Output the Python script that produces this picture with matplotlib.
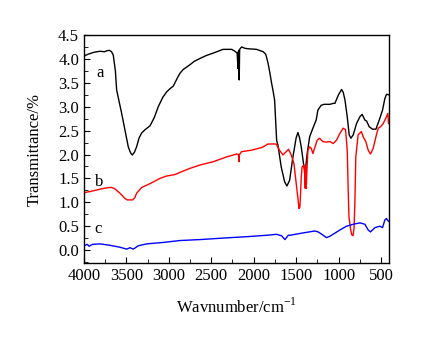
import matplotlib.pyplot as plt
from matplotlib.ticker import MultipleLocator

plt.rcParams['font.family'] = 'Liberation Serif'
plt.rcParams['mathtext.fontset'] = 'custom'
plt.rcParams['mathtext.rm'] = 'Liberation Serif'

# curve a (black)
wa = [4000, 3950, 3880, 3812, 3760, 3730, 3700, 3675, 3655, 3630, 3615, 3585,
      3556, 3517, 3478, 3450, 3430, 3405, 3380, 3350, 3320, 3280, 3222, 3170,
      3125, 3070, 3026, 2985, 2948, 2900, 2869, 2830, 2790, 2750, 2700, 2633,
      2560, 2480, 2420, 2362, 2300, 2260, 2221, 2195, 2186, 2182, 2176, 2171,
      2166, 2143, 2100, 2050, 1966, 1920, 1888, 1860, 1849, 1830, 1809, 1790,
      1770, 1754, 1730, 1715, 1676, 1636, 1609, 1577, 1538, 1500, 1479, 1460,
      1440, 1408, 1393, 1370, 1341, 1303, 1264, 1244, 1205, 1170, 1146, 1102,
      1063, 1043, 1004, 965, 945, 925, 898, 875, 855, 828, 788, 749, 722, 690,
      670, 639, 600, 560, 521, 482, 455, 435, 412]
ya = [4.06, 4.10, 4.14, 4.16, 4.15, 4.17, 4.18, 4.15, 4.08, 3.75, 3.35, 3.10,
      2.86, 2.51, 2.16, 2.03, 1.99, 2.05, 2.16, 2.35, 2.45, 2.52, 2.60, 2.78,
      3.00, 3.20, 3.31, 3.38, 3.43, 3.60, 3.70, 3.78, 3.83, 3.88, 3.95, 4.01,
      4.07, 4.12, 4.16, 4.20, 4.20, 4.20, 4.16, 4.12, 3.80, 4.15, 4.18, 3.56,
      4.20, 4.25, 4.22, 4.21, 4.20, 4.17, 4.15, 4.10, 4.04, 3.90, 3.70, 3.50,
      3.31, 3.14, 2.30, 2.20, 1.74, 1.43, 1.34, 1.46, 1.95, 2.35, 2.46, 2.35,
      2.16, 1.74, 1.64, 2.02, 2.37, 2.55, 2.72, 2.93, 3.03, 3.05, 3.05, 3.05,
      3.07, 3.07, 3.24, 3.36, 3.30, 3.14, 2.79, 2.41, 2.34, 2.41, 2.65, 2.79,
      2.84, 2.72, 2.70, 2.58, 2.53, 2.53, 2.72, 2.93, 3.17, 3.26, 3.25]

# curve b (red)
wb = [4000, 3890, 3773, 3700, 3674, 3635, 3576, 3517, 3490, 3427, 3400, 3380,
      3320, 3222, 3105, 3026, 2928, 2849, 2751, 2633, 2476, 2319, 2201, 2180,
      2174, 2168, 2143, 2025, 1900, 1832, 1735, 1696, 1656, 1617, 1589, 1558,
      1526, 1499, 1479, 1467, 1456, 1445, 1440, 1430, 1408, 1400, 1393, 1387,
      1381, 1375, 1361, 1341, 1322, 1303, 1283, 1252, 1224, 1185, 1146, 1102,
      1063, 1024, 985, 947, 918, 898, 886, 878, 860, 845, 830, 818, 808, 797,
      770, 731, 711, 679, 651, 624, 592, 560, 533, 506, 474, 443, 420, 412]
yb = [1.20, 1.24, 1.29, 1.31, 1.31, 1.28, 1.19, 1.08, 1.05, 1.05, 1.10, 1.19,
      1.31, 1.39, 1.50, 1.55, 1.58, 1.64, 1.71, 1.78, 1.85, 1.95, 2.01, 2.00,
      1.85, 2.00, 2.06, 2.09, 2.15, 2.22, 2.22, 2.09, 1.99, 2.06, 2.11, 1.99,
      1.81, 1.39, 1.08, 0.87, 0.90, 1.30, 1.53, 1.74, 1.78, 1.60, 1.29, 1.75,
      1.29, 1.60, 2.09, 2.16, 2.13, 2.02, 2.13, 2.30, 2.34, 2.27, 2.26, 2.27,
      2.23, 2.30, 2.44, 2.55, 2.52, 2.09, 1.20, 0.70, 0.45, 0.32, 0.30, 0.45,
      1.00, 1.95, 2.41, 2.48, 2.37, 2.27, 2.09, 2.01, 2.13, 2.37, 2.55, 2.58,
      2.65, 2.76, 2.86, 2.65]

# curve c (blue)
wc = [4000, 3988, 3960, 3940, 3900, 3812, 3694, 3576, 3497, 3458, 3419, 3360,
      3261, 3066, 2869, 2633, 2280, 2084, 1849, 1730, 1672, 1632, 1593, 1573,
      1416, 1279, 1240, 1181, 1142, 1102, 985, 906, 828, 749, 690, 651, 624,
      572, 513, 482, 455, 435, 412]
yc = [0.10, 0.10, 0.12, 0.08, 0.12, 0.13, 0.10, 0.06, 0.02, 0.05, 0.02, 0.09,
      0.13, 0.16, 0.20, 0.22, 0.26, 0.28, 0.31, 0.33, 0.30, 0.22, 0.31, 0.31,
      0.36, 0.40, 0.38, 0.31, 0.26, 0.29, 0.42, 0.50, 0.54, 0.57, 0.54, 0.42,
      0.38, 0.47, 0.50, 0.47, 0.63, 0.66, 0.60]

fig = plt.figure(figsize=(4.22, 3.40), dpi=100)
ax = fig.add_axes([0.199, 0.2265, 0.723, 0.6705])

ax.plot(wa, ya, color='black', lw=1.0)
ax.plot(wb, yb, color='red', lw=1.0)
ax.plot(wc, yc, color='blue', lw=1.0)

ax.text(3810, 3.7, 'a', fontsize=12, ha='center', va='center')
ax.text(3825, 1.42, 'b', fontsize=12, ha='center', va='center')
ax.text(3835, 0.45, 'c', fontsize=12, ha='center', va='center')

ax.set_xlim(4000, 405)
ax.set_ylim(-0.27, 4.5)
ax.xaxis.set_major_locator(MultipleLocator(500))
ax.xaxis.set_minor_locator(MultipleLocator(250))
ax.yaxis.set_major_locator(MultipleLocator(0.5))
ax.yaxis.set_minor_locator(MultipleLocator(0.25))
ax.tick_params(which='both', direction='in', top=False, right=False, labelsize=12)
ax.tick_params(which='major', length=4)
ax.tick_params(which='minor', length=3)
for s in ax.spines.values():
    s.set_linewidth(1.0)

ax.set_xlabel(r'Wavnumber/cm$^{\mathregular{-1}}$', fontsize=12, labelpad=10)
ax.set_ylabel('Transmittance/%', fontsize=12, labelpad=11)

plt.savefig('out.png', dpi=100)
